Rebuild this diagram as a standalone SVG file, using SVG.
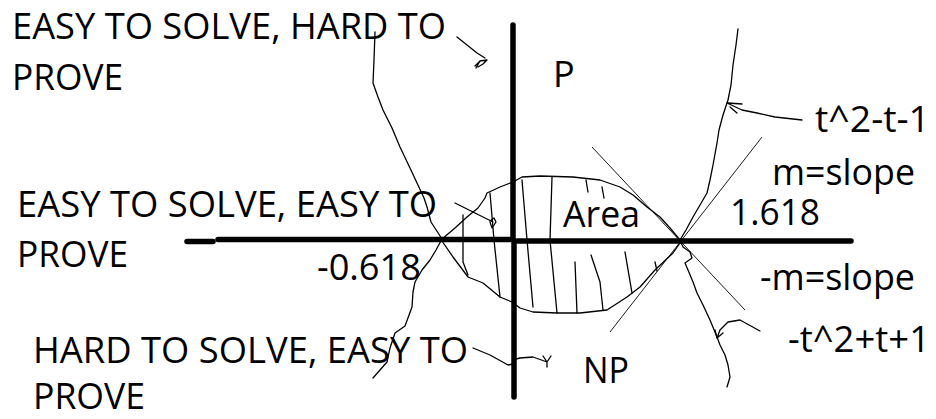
<svg xmlns="http://www.w3.org/2000/svg" width="936" height="419" viewBox="0 0 936 419">
<style>
.t{font-family:'Open Sans','DejaVu Sans',sans-serif;font-size:36px;fill:#000}
.ax{stroke:#000;stroke-width:5.5;fill:none;stroke-linecap:round}
.ln{stroke:#000;stroke-width:1.3;fill:none;stroke-linejoin:round;stroke-linecap:round}
.th{stroke:#000;stroke-width:0.9;fill:none}
</style>
<rect width="936" height="419" fill="#fff"/>
<g id="axes">
<path class="ax" d="M513,25 L513,239"/>
<path class="ax" d="M514,241 L514,397"/>
<path class="ax" d="M187,241.5 L213,241.5"/>
<path class="ax" d="M218,239.5 L511,239.5"/>
<path class="ax" d="M517,241 L851,241"/>
</g>
<g id="connectors">
<path id="left-curve" class="ln" d="M375,32 L374,60 L373,83 L378,97 L383,110 L392,128 L400,147 L410,168 L417,183 L424,198 L427,207 L431,222 L442,239 L436,250 L430,260 L422,270 L415,282 L413,292 L412,307 L405,326 L395,333 L390,348 L387,362 L380,370 L373,378"/>
<path id="right-curve" class="ln" d="M738,29 L736,45 L733,65 L731,85 L728,100 L723,115 L719,130 L717,143 L713,165 L710,180 L707,193 L700,205 L693,217 L686,230 L680,240 L683,247 L690,252 L692,258 L685,263 L688,270 L693,282 L697,293 L703,305 L710,320 L717,337 L720,345 L725,355 L728,365 L730,377 L727,387"/>
<path id="lens" class="ln" d="M442,239 L455,228 L467,217 L478,208 L485,198 L487,193 L500,187 L513,182 L522,177 L540,176 L573,177 L600,180 L620,187 L633,195 L647,207 L660,217 L670,228 L680,240 M442,241 L453,257 L468,277 L483,283 L500,297 L512,302 L520,308 L533,312 L557,313 L580,313 L607,310 L627,297 L640,287 L655,270 L673,253 L680,243"/>
<path id="hatch" class="ln" d="M463,215 L463,262 L468,275 M490,193 L494,240 L500,297 M522,180 L527,240 L533,307 M552,177 L550,240 L557,313 M575,262 L577,313 M586,180 L588,192 M591,255 L600,282 L603,310 M602,187 L604,198 M625,252 L632,293 M655,262 L657,271"/>
<path id="tangent-m" class="th" d="M762,137 L610,332"/>
<path id="tangent-neg-m" class="th" d="M592,147 L745,310"/>
<path id="arrow-top" class="ln" d="M457,37 L467,45 L477,53 L485,58 M475,66 L480,61 L487,60 L483,64 L478,67 M480,61 L476,68"/>
<path id="arrow-mid" class="ln" d="M455,203 L475,213 L493,222 M490,221 L494,218 L496,222 L492,228 L490,222"/>
<path id="arrow-bottom" class="ln" d="M473,348 L490,355 L508,365 L513,364 M516,359 L520,358 L533,357 L547,362 M543,356 L547,362 L551,356 M547,362 L547,367"/>
<path id="arrow-t2" class="ln" d="M802,120 L775,117 L757,113 L742,110 L727,103 M728,103 L742,104 M730,107 L737,113"/>
<path id="arrow-negt2" class="ln" d="M760,331 L740,320 L728,322 L720,330 L717,338 M717,338 L723,333 M717,338 L715,330"/>
</g>
<g id="label-easy-hard"><text class="t" x="12" y="39" textLength="434" lengthAdjust="spacingAndGlyphs">EASY TO SOLVE, HARD TO</text><text class="t" x="12" y="90" textLength="111" lengthAdjust="spacingAndGlyphs">PROVE</text></g>
<g id="label-P"><text class="t" x="553" y="87">P</text></g>
<g id="label-easy-easy"><text class="t" x="17" y="217" textLength="420" lengthAdjust="spacingAndGlyphs">EASY TO SOLVE, EASY TO</text><text class="t" x="17" y="267" textLength="111" lengthAdjust="spacingAndGlyphs">PROVE</text></g>
<g id="label-neg0618"><text class="t" x="317" y="280" textLength="104" lengthAdjust="spacingAndGlyphs">-0.618</text></g>
<g id="label-area"><text class="t" x="563" y="227" textLength="77" lengthAdjust="spacingAndGlyphs">Area</text></g>
<g id="label-1618"><text class="t" x="730" y="225" textLength="90" lengthAdjust="spacingAndGlyphs">1.618</text></g>
<g id="label-t2"><text class="t" x="815" y="132" textLength="115" lengthAdjust="spacingAndGlyphs">t^2-t-1</text></g>
<g id="label-m"><text class="t" x="772" y="185" textLength="143" lengthAdjust="spacingAndGlyphs">m=slope</text></g>
<g id="label-negm"><text class="t" x="760" y="290" textLength="155" lengthAdjust="spacingAndGlyphs">-m=slope</text></g>
<g id="label-negt2"><text class="t" x="788" y="352" textLength="142" lengthAdjust="spacingAndGlyphs">-t^2+t+1</text></g>
<g id="label-hard-easy"><text class="t" x="33" y="363" textLength="435" lengthAdjust="spacingAndGlyphs">HARD TO SOLVE, EASY TO</text><text class="t" x="33" y="409" textLength="112" lengthAdjust="spacingAndGlyphs">PROVE</text></g>
<g id="label-NP"><text class="t" x="583" y="383" textLength="46" lengthAdjust="spacingAndGlyphs">NP</text></g>
</svg>
